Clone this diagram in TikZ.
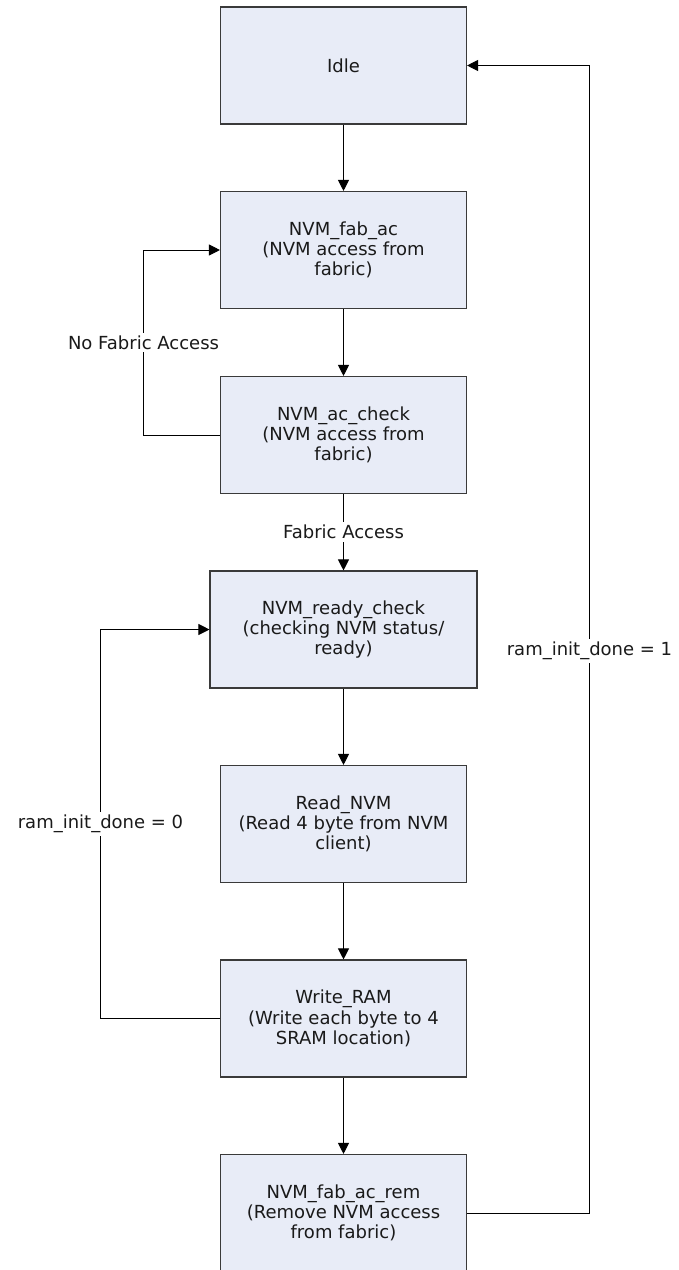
\documentclass[tikz,border=0pt]{standalone}
\usepackage{fontspec}
\setmainfont{DejaVu Sans}
\usetikzlibrary{arrows.meta}
\definecolor{boxfill}{HTML}{E8ECF7}
\definecolor{boxline}{HTML}{3A3A3A}
\definecolor{txt}{HTML}{1A1A1A}
\tikzset{
  state/.style={draw=boxline, line width=1.1pt, fill=boxfill, minimum width=246pt, minimum height=117pt, align=center, text=txt, inner sep=0pt},
  conn/.style={draw=black, line width=1pt, -{Triangle[length=11pt,width=11pt]}},
  lbl/.style={fill=white, text=txt, inner sep=3pt}
}
\begin{document}
\begin{tikzpicture}[x=1pt,y=-1pt,font=\fontsize{18}{20.3}\selectfont]
\useasboundingbox (0,0) rectangle (678,1270);
\clip (0,0) rectangle (678,1270);
\node[state] (idle) at (343.5,65.5) {Idle};
\node[state] (fab) at (343.5,250) {NVM\_fab\_ac\\(NVM access from\\fabric)};
\node[state] (acc) at (343.5,435) {NVM\_ac\_check\\(NVM access from\\fabric)};
\node[state, minimum width=267pt] (ready) at (343.5,629.5) {NVM\_ready\_check\\(checking NVM status/\\ready)};
\node[state] (read) at (343.5,824) {Read\_NVM\\(Read 4 byte from NVM\\client)};
\node[state] (write) at (343.5,1018.5) {Write\_RAM\\(Write each byte to 4\\SRAM location)};
\node[state] (rem) at (343.5,1213) {NVM\_fab\_ac\_rem\\(Remove NVM access\\from fabric)};

\coordinate (l1) at (143.5,435);
\coordinate (l1t) at (143.5,250);
\coordinate (l2) at (100.5,1018.5);
\coordinate (l2t) at (100.5,629.5);
\coordinate (r1) at (589.5,1213);
\coordinate (r1t) at (589.5,65.5);

\draw[conn] (idle) -- (fab);
\draw[conn] (fab) -- (acc);
\draw[conn] (acc) -- node[lbl] (fa) {Fabric Access} (ready);
\draw[conn] (ready) -- (read);
\draw[conn] (read) -- (write);
\draw[conn] (write) -- (rem);

\draw[conn] (acc.west) -- (l1) -- node[lbl] (nfa) {No Fabric Access} (l1t) -- (fab.west);
\draw[conn] (write.west) -- (l2) -- node[lbl, pos=0.5] (r0) {ram\_init\_done = 0} (l2t) -- (ready.west);
\draw[conn] (rem.east) -- (r1) -- node[lbl, pos=0.49] (r1l) {ram\_init\_done = 1} (r1t) -- (idle.east);
\end{tikzpicture}
\end{document}
